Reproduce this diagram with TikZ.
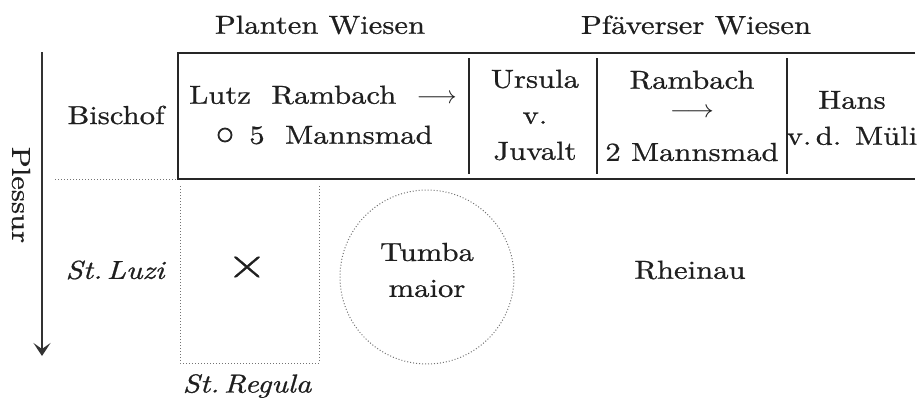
\documentclass[tikz,border=0pt]{standalone}
\usepackage{fontspec}
\usepackage{graphicx}
\setmainfont{lmroman10}[Extension=.otf, UprightFont=*-regular, BoldFont=*-bold, ItalicFont=*-italic, BoldItalicFont=*-bolditalic, FakeStretch=1.18, FakeBold=0.8]
\usetikzlibrary{arrows.meta}
\tikzset{
  lbl/.style={inner sep=0pt, align=center, text=black!88, font=\fontsize{26}{36}\selectfont},
  heavy/.style={line width=2.2pt, black!85},
  dots/.style={line width=1pt, black!55, dotted},
}
\begin{document}
\begin{tikzpicture}[x=1pt,y=-1pt]
\useasboundingbox (0,0) rectangle (919,400);
% headers
\node[lbl] (pw) at (320,25) {Planten Wiesen};
\node[lbl] (pf) at (696,25) {Pfäverser Wiesen};
% box
\coordinate (btl) at (178,53);
\coordinate (btr) at (915,53);
\coordinate (bbl) at (178,179);
\coordinate (bbr) at (915,179);
\draw[heavy] (btr) -- (btl) -- (bbl) -- (bbr);
\foreach \x/\n in {469/a,597/b,787/c}{
  \coordinate (d\n t) at (\x,58);
  \coordinate (d\n b) at (\x,174);
  \draw[heavy] (d\n t) -- (d\n b);
}
% row labels
\node[lbl] (bi) at (116,115) {Bischof};
\node[lbl] (lz) at (323,95) {Lutz\ \ Rambach\ \ $\longrightarrow$};
\node[draw, circle, line width=1.8pt, black!85, minimum size=13pt, inner sep=0pt] (oc) at (225,135) {};
\node[lbl] (mm) at (341,135) {5\ \ Mannsmad};
\node[lbl] (ra1) at (692,80) {Rambach};
\node[lbl] (ra2) at (692,113) {\scalebox{1.1}[1.0]{$\longrightarrow$}};
\node[lbl] (ra3) at (692,152) {2 Mannsmad};
\node[lbl] (ur) at (535,115) {Ursula\\v.\\Juvalt};
\node[lbl] (ha) at (852,118) {Hans\\v.\,d. Müli};
% arrow Plessur
\coordinate (at) at (42,52);
\coordinate (ab) at (42,356);
\draw[line width=2pt, black!80, -{Stealth[length=13pt,width=17pt,inset=6pt]}] (at) -- (ab);
\node[lbl, rotate=-90] (pl) at (21,195) {Plessur};
% lower part
\coordinate (hl) at (55,179);
\coordinate (hr) at (176,179);
\draw[dots] (hl) -- (hr);
\coordinate (r1) at (180,186);
\coordinate (r2) at (180,363);
\coordinate (r3) at (319,363);
\coordinate (r4) at (319,186);
\draw[dots] (r1) -- (r2) -- (r3) -- (r4);
\node[lbl] (sl) at (115,270) {\itshape St.\,Luzi};
\node[lbl] (x) at (247,267) {\fontsize{44}{44}\selectfont ×};
\node[lbl] (sr) at (247,386) {\itshape St.\,Regula};
\node[dots, draw, circle, minimum size=174pt, inner sep=0pt] (tc) at (427,277) {};
\node[lbl] (tm) at (427,270) {Tumba\\maior};
\node[lbl] (rh) at (690,270) {Rheinau};
\end{tikzpicture}
\end{document}
